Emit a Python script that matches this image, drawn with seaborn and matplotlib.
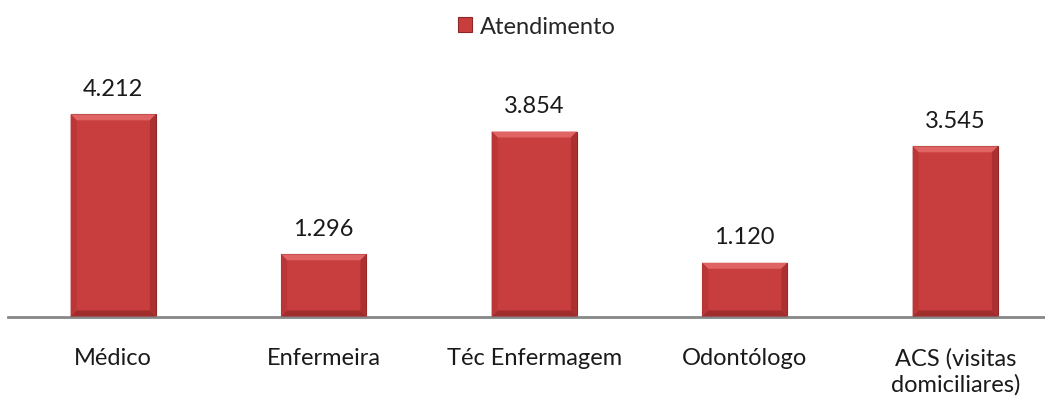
import matplotlib
matplotlib.use("Agg")
import matplotlib.pyplot as plt
from matplotlib.patches import Polygon, Patch
import seaborn as sns
import pandas as pd

categories = ["Médico", "Enfermeira", "Téc Enfermagem", "Odontólogo", "ACS (visitas\ndomiciliares)"]
values = [4212, 1296, 3854, 1120, 3545]
value_labels = ["4.212", "1.296", "3.854", "1.120", "3.545"]
series_name = "Atendimento"

df = pd.DataFrame({"categoria": categories, "valor": values})

sns.set_theme(style="white")
plt.rcParams["font.family"] = ["Lato", "DejaVu Sans"]

W, H = 1045, 402
fig = plt.figure(figsize=(W / 100, H / 100), dpi=100)
# axes spans five equal category slots; the last slot runs past the right edge
left_px, base_px, slot_px, top_px = 8, 317.5, 210.5, 77.5
ax = fig.add_axes([left_px / W, (H - base_px) / H, 5 * slot_px / W, (base_px - top_px) / H])

bar_color = "#C83E3E"
sns.barplot(data=df, x="categoria", y="valor", color=bar_color, width=0.405,
            saturation=1, ax=ax, edgecolor="#8E2626", linewidth=0.8)
ax.set_xlim(-0.5, 4.5)
ax.set_ylim(0, 5000)

# bevel shading on each bar
bx = 6 / slot_px
by = 6 / ((base_px - top_px) / 5000)
for p in ax.patches:
    x0, y0 = p.get_x(), p.get_y()
    w, h = p.get_width(), p.get_height()
    x1, y1 = x0 + w, y0 + h
    top = Polygon([(x0, y1), (x1, y1), (x1 - bx, y1 - by), (x0 + bx, y1 - by)],
                  closed=True, facecolor="#E06464", edgecolor="none", zorder=3)
    bot = Polygon([(x0, y0), (x1, y0), (x1 - bx, y0 + by), (x0 + bx, y0 + by)],
                  closed=True, facecolor="#A02C2C", edgecolor="none", zorder=3)
    lft = Polygon([(x0, y0), (x0, y1), (x0 + bx, y1 - by), (x0 + bx, y0 + by)],
                  closed=True, facecolor="#BB3636", edgecolor="none", zorder=3)
    rgt = Polygon([(x1, y0), (x1, y1), (x1 - bx, y1 - by), (x1 - bx, y0 + by)],
                  closed=True, facecolor="#AC3030", edgecolor="none", zorder=3)
    for poly in (top, bot, lft, rgt):
        ax.add_patch(poly)

for i, (v, lab) in enumerate(zip(values, value_labels)):
    ax.annotate(lab, (i, v), xytext=(0, 14), textcoords="offset points",
                ha="center", va="baseline", fontsize=17, color="#1a1a1a")

sns.despine(ax=ax, left=True, top=True, right=True)
ax.spines["bottom"].set_color("#878787")
ax.spines["bottom"].set_linewidth(2)
ax.set_yticks([])
ax.set_xlabel("")
ax.set_ylabel("")
ax.tick_params(axis="x", length=0, pad=22, labelsize=17, labelcolor="#1a1a1a")
for t in ax.get_xticklabels():
    t.set_va("top")
    t.set_linespacing(1.25)

handle = Patch(facecolor=bar_color, edgecolor="#8E2626", linewidth=0.8)
fig.legend([handle], [series_name], loc="center", bbox_to_anchor=(537 / W, 1 - 27 / H),
           frameon=False, fontsize=17, handlelength=0.6, handleheight=0.6,
           handletextpad=0.35)

fig.savefig("out.png", dpi=100)
